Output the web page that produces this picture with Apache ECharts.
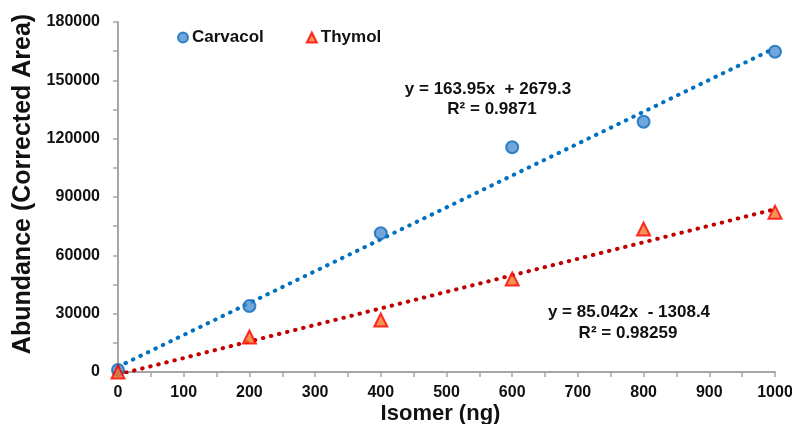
<!DOCTYPE html>
<html>
<head>
<meta charset="utf-8">
<script src="https://cdn.jsdelivr.net/npm/echarts@6/dist/echarts.min.js"></script>
<style>
  html, body { margin: 0; padding: 0; background: #fff; }
  #chart { width: 792px; height: 424px; }
</style>
</head>
<body>
<div id="chart"></div>
<script>
// Isomer amount (ng)
const isomerNg = [0, 200, 400, 600, 800, 1000];

// Abundance (corrected area)
const carvacolArea = [1000, 33900, 71400, 115600, 128700, 164700];
const thymolArea = [0, 18000, 26700, 47800, 73500, 82200];

// Linear trendlines as printed on the chart
const carvacolFit = { slope: 163.95, intercept: 2679.3, r2: '0.9871' };
const thymolFit = { slope: 85.042, intercept: -1308.4, r2: '0.98259' };

const xTicks = [0, 1000, 100];
const yTicks = [0, 180000, 30000];

const FONT = '"Liberation Sans", Arial, sans-serif';
const AXIS_GREY = '#A6A6A6';

function pairs(xs, ys) {
	return xs.map((x, i) => [x, ys[i]]);
}

function trendLine(fit) {
	return [xTicks[0], xTicks[1]].map(x => [x, fit.slope * x + fit.intercept]);
}

function dottedLine(name, fit, color) {
	return {
		name: name,
		type: 'line',
		data: trendLine(fit),
		symbol: 'none',
		silent: true,
		z: 1,
		lineStyle: { color: color, width: 4, type: [0.5, 7.8], cap: 'round' }
	};
}

function equationText(x, y, text) {
	return {
		type: 'text',
		x: x,
		y: y,
		style: {
			text: text,
			font: `bold 17px ${FONT}`,
			fill: '#111',
			textAlign: 'center',
			textVerticalAlign: 'middle'
		}
	};
}

const axisLabelStyle = {
	fontFamily: FONT,
	fontSize: 16,
	fontWeight: 'bold',
	color: '#111',
	formatter: v => String(v)
};

const chart = echarts.init(document.getElementById('chart'));

chart.setOption({
	animation: false,
	textStyle: { fontFamily: FONT },
	grid: { left: 118, right: 17, top: 22, bottom: 52, outerBoundsMode: 'none', containLabel: false },
	legend: {
		data: ['Carvacol', 'Thymol'],
		left: 172,
		top: 24,
		itemGap: 42,
		itemWidth: 10,
		itemHeight: 10,
		textStyle: { fontFamily: FONT, fontSize: 17, fontWeight: 'bold', color: '#111', padding: [0, 0, 0, -1] }
	},
	xAxis: {
		type: 'value',
		min: xTicks[0],
		max: xTicks[1],
		interval: xTicks[2],
		name: 'Isomer (ng)',
		nameLocation: 'middle',
		nameGap: 31,
		nameMoveOverlap: false,
		nameTextStyle: { fontFamily: FONT, fontSize: 22, fontWeight: 'bold', color: '#111', padding: [0, 12, 0, 0] },
		axisLine: { lineStyle: { color: AXIS_GREY, width: 2 } },
		axisTick: { show: true, length: 5, lineStyle: { color: AXIS_GREY, width: 1.5 } },
		minorTick: { show: true, splitNumber: 2, length: 5, lineStyle: { color: AXIS_GREY, width: 1.5 } },
		splitLine: { show: false },
		axisLabel: Object.assign({ margin: 13, showMinLabel: true, showMaxLabel: true }, axisLabelStyle)
	},
	yAxis: {
		type: 'value',
		min: yTicks[0],
		max: yTicks[1],
		interval: yTicks[2],
		name: 'Abundance (Corrected Area)',
		nameLocation: 'middle',
		nameGap: 82,
		nameMoveOverlap: false,
		nameTextStyle: { fontFamily: FONT, fontSize: 25, fontWeight: 'bold', color: '#111', padding: [0, 0, 0, 26] },
		axisLine: { show: true, lineStyle: { color: AXIS_GREY, width: 2 } },
		axisTick: { show: true, length: 5, lineStyle: { color: AXIS_GREY, width: 1.5 } },
		minorTick: { show: true, splitNumber: 2, length: 5, lineStyle: { color: AXIS_GREY, width: 1.5 } },
		splitLine: { show: false },
		axisLabel: Object.assign({ margin: 18 }, axisLabelStyle)
	},
	series: [
		dottedLine('Carvacol fit', carvacolFit, '#0070C0'),
		dottedLine('Thymol fit', thymolFit, '#C00000'),
		{
			name: 'Carvacol',
			type: 'scatter',
			data: pairs(isomerNg, carvacolArea),
			symbol: 'circle',
			symbolSize: 12,
			z: 3,
			itemStyle: { color: '#4F8FCF', borderColor: '#0B6BBE', borderWidth: 2 }
		},
		{
			name: 'Thymol',
			type: 'scatter',
			data: pairs(isomerNg, thymolArea),
			symbol: 'triangle',
			symbolSize: 13,
			z: 3,
			itemStyle: { color: '#F0782A', borderColor: '#FF0000', borderWidth: 2 }
		}
	],
	graphic: [
		equationText(488, 89, `y = ${carvacolFit.slope}x  + ${carvacolFit.intercept}`),
		equationText(492, 109, `R² = ${carvacolFit.r2}`),
		equationText(629, 312, `y = ${thymolFit.slope}x  - ${Math.abs(thymolFit.intercept)}`),
		equationText(628, 333, `R² = ${thymolFit.r2}`)
	]
});
</script>
</body>
</html>
